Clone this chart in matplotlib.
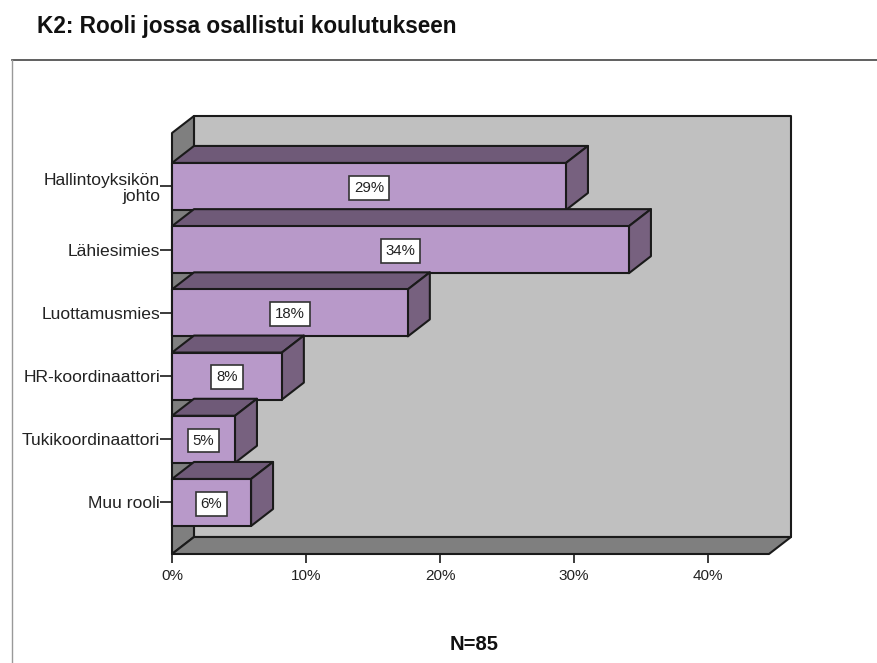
import matplotlib

matplotlib.use("Agg")
import matplotlib.pyplot as plt
from matplotlib.lines import Line2D
from matplotlib.patches import Polygon

plt.rcParams["font.family"] = ["Liberation Sans", "DejaVu Sans"]

roles = [
    "Hallintoyksikön\njohto",
    "Lähiesimies",
    "Luottamusmies",
    "HR-koordinaattori",
    "Tukikoordinaattori",
    "Muu rooli",
]
shares = [29.4, 34.1, 17.6, 8.2, 4.7, 5.9]
x_ticks = [0, 10, 20, 30, 40]
title = "K2: Rooli jossa osallistui koulutukseen"
n_label = "N=85"

fig_w, fig_h = 878, 663
edge = "#1a1a1a"
line_width = 1.5

fig = plt.figure(figsize=(fig_w / 100, fig_h / 100), dpi=100)
ax = fig.add_axes(
    [172 / fig_w, 1 - 554 / fig_h, (769 - 172) / fig_w, (554 - 133) / fig_h]
)

x_max = 44.55
y_top, y_bottom = -0.846, 5.815
ax.set_xlim(0, x_max)
ax.set_ylim(y_bottom, y_top)

# depth of the 3D box, in data units
dx = 1.64
dy = 0.269
bar_h = 0.744


def face(points, color, z=1):
    ax.add_patch(
        Polygon(
            points,
            closed=True,
            facecolor=color,
            edgecolor=edge,
            linewidth=line_width,
            joinstyle="round",
            clip_on=False,
            zorder=z,
        )
    )


# back wall, left wall and floor
face(
    [
        (dx, y_top - dy),
        (x_max + dx, y_top - dy),
        (x_max + dx, y_bottom - dy),
        (dx, y_bottom - dy),
    ],
    "#c0c0c0",
)
face(
    [(0, y_top), (dx, y_top - dy), (dx, y_bottom - dy), (0, y_bottom)],
    "#7f7f7f",
)
face(
    [
        (0, y_bottom),
        (x_max, y_bottom),
        (x_max + dx, y_bottom - dy),
        (dx, y_bottom - dy),
    ],
    "#7f7f7f",
)

# bars go from the top down so each top face covers the bar above it
for i, value in enumerate(shares):
    y0 = i - bar_h / 2
    y1 = i + bar_h / 2
    z = 2 + i
    face([(0, y0), (value, y0), (value + dx, y0 - dy), (dx, y0 - dy)], "#6f5a78", z)
    face(
        [(value, y0), (value + dx, y0 - dy), (value + dx, y1 - dy), (value, y1)],
        "#77617f",
        z,
    )
    face([(0, y0), (value, y0), (value, y1), (0, y1)], "#b899c9", z)
    ax.text(
        value / 2,
        i + 0.02,
        f"{value:.0f}%",
        ha="center",
        va="center",
        fontsize=10.8,
        color="#222222",
        zorder=z + 0.5,
        bbox=dict(
            boxstyle="square,pad=0.33",
            facecolor="white",
            edgecolor="#333333",
            linewidth=1.2,
        ),
    )

for spine in ax.spines.values():
    spine.set_visible(False)
ax.patch.set_visible(False)

ax.set_yticks(range(len(roles)))
ax.set_yticklabels(roles, fontsize=12.6, color="#222222", ma="right", linespacing=1.12)
ax.set_xticks(x_ticks)
ax.set_xticklabels([f"{t}%" for t in x_ticks], fontsize=11, color="#222222")
ax.tick_params(axis="y", length=8.5, width=1.2, color=edge, pad=0)
ax.tick_params(axis="x", length=6.5, width=1.2, color=edge, pad=4)

fig.text(37 / fig_w, 1 - 26 / fig_h, title, fontsize=16.3, fontweight="bold",
         ha="left", va="center", color="#111111")
fig.text(474 / fig_w, 1 - 644 / fig_h, n_label, fontsize=14.5, fontweight="bold",
         ha="center", va="center", color="#111111")

# frame of the output window, open on the right and bottom
fig.add_artist(
    Line2D([12 / fig_w, 1], [1 - 60 / fig_h, 1 - 60 / fig_h], color="#444444", linewidth=1.2)
)
fig.add_artist(
    Line2D([12 / fig_w, 12 / fig_w], [1 - 60 / fig_h, 0], color="#999999", linewidth=1.0)
)

fig.savefig("out.png", dpi=100)
plt.close(fig)
